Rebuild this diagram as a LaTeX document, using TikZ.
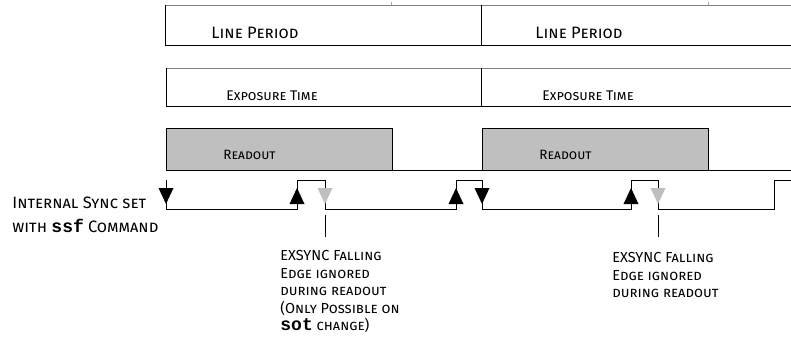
\documentclass[tikz,border=0pt]{standalone}
\usepackage{fontspec}
\setsansfont{Fira Sans}
\setmonofont{Liberation Mono}
\newcommand{\cmdword}[1]{{\upshape\ttfamily\bfseries\fontsize{18}{18}\selectfont #1}}

\begin{document}
\begin{tikzpicture}[x=1pt, y=-1pt, line width=0.8pt]
\useasboundingbox (0,0) rectangle (791,337);
   \begin{scope}[every node/.style={inner sep=0pt, anchor=base west, font=\sffamily\scshape}]
% line period row
\coordinate(lp) at (165,5);
\coordinate(lq) at (165,45);
\draw [gray] (lp) -- (791,5);
\draw (lp) -- (lq) -- (791,45);
\draw (481,5) -- (481,45);
\foreach \x in {391,708}
       \draw [gray!70, line width=0.4pt] (\x,2) -- (\x,5);

% exposure row
\coordinate(ep) at (166,68);
\coordinate(eq) at (166,106);
\draw [gray] (ep) -- (791,68);
\draw (ep) -- (eq) -- (791,106);
\draw (481,68) -- (481,106);

% readout row
\filldraw [fill=gray!50] (166,128) rectangle (392,170);
\filldraw [fill=gray!50] (482,128) rectangle (708,170);
\draw (392,170) -- (482,170);
\draw (708,170) -- (791,170);

% sync signal
\coordinate(s0) at (166,180);
\coordinate(s1) at (166,209);
\coordinate(s2) at (297,209);
\coordinate(s3) at (297,180);
\coordinate(s4) at (325,180);
\coordinate(s5) at (325,209);
\coordinate(s6) at (456,209);
\coordinate(s7) at (456,180);
\coordinate(s8) at (482,180);
\coordinate(s9) at (482,209);
\coordinate(s10) at (631,209);
\coordinate(s11) at (631,180);
\coordinate(s12) at (658,180);
\coordinate(s13) at (658,209);
\coordinate(s14) at (774,209);
\coordinate(s15) at (774,180);
\coordinate(s16) at (791,180);

\draw (s0) -- (s1) -- (s2) -- (s3) -- (s4) -- (s5) -- (s6) -- (s7) -- (s8)
      -- (s9) -- (s10) -- (s11) -- (s12) -- (s13) -- (s14) -- (s15) -- (s16);

\foreach \x in {297,456,631}
       \fill [black] (\x-7.5,204) -- (\x+7.5,204) -- (\x,188) -- cycle;
\foreach \x in {166,482}
       \fill [black] (\x-7.5,188) -- (\x+7.5,188) -- (\x,204) -- cycle;
\foreach \x in {325,658}
       \fill [gray!50] (\x-7.5,188) -- (\x+7.5,188) -- (\x,204) -- cycle;
\foreach \x in {325,658}
       \draw (\x,215) -- (\x,237);

% labels
\node at (211,38) {\fontsize{16.5}{16.5}\selectfont Line Period};
\node at (535,38) {\fontsize{16.5}{16.5}\selectfont Line Period};
\node at (226,100) {\fontsize{14}{14}\selectfont Exposure Time};
\node at (542,100) {\fontsize{14}{14}\selectfont Exposure Time};
\node at (223,159) {\fontsize{13.5}{13.5}\selectfont Readout};
\node at (539,159) {\fontsize{13.5}{13.5}\selectfont Readout};

\node at (12,208) {\fontsize{16.5}{16.5}\selectfont Internal Sync set};
\node at (12,232) {\fontsize{16.5}{16.5}\selectfont with \cmdword{ssf} Command};

\node [anchor=north west, align=left, font=\sffamily\scshape\fontsize{14.5}{17.5}\selectfont]
      at (280,250) {EXSYNC Falling\\Edge ignored\\during readout\\(Only Possible on\\\cmdword{sot} change)};
\node [anchor=north west, align=left, font=\sffamily\scshape\fontsize{14.5}{17.5}\selectfont]
      at (612,252) {EXSYNC Falling\\Edge ignored\\during readout};
  \end{scope}
\end{tikzpicture}
\end{document}
